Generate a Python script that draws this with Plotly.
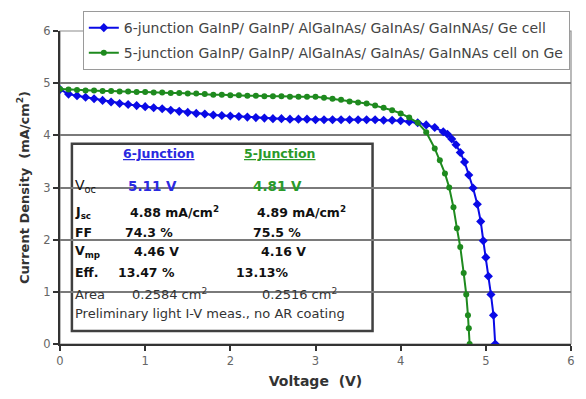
import plotly.graph_objects as go

# ---- measured J-V data -------------------------------------------------------
v_6j = [0.0, 0.1, 0.2, 0.3, 0.4, 0.5, 0.6, 0.7, 0.8, 0.9,
        1.0, 1.1, 1.2, 1.3, 1.4, 1.5, 1.6, 1.7, 1.8, 1.9,
        2.0, 2.1, 2.2, 2.3, 2.4, 2.5, 2.6, 2.7, 2.8, 2.9,
        3.0, 3.1, 3.2, 3.3, 3.4, 3.5, 3.6, 3.7, 3.8, 3.9,
        4.0, 4.1, 4.2, 4.3, 4.4, 4.5, 4.55, 4.6, 4.65, 4.7,
        4.75, 4.8, 4.85, 4.9, 4.94, 4.97, 5.0, 5.03, 5.06, 5.09, 5.11]
j_6j = [4.88, 4.79, 4.76, 4.73, 4.70, 4.67, 4.64, 4.61, 4.59, 4.57,
        4.55, 4.53, 4.51, 4.48, 4.46, 4.44, 4.42, 4.41, 4.39, 4.38,
        4.37, 4.36, 4.35, 4.34, 4.33, 4.32, 4.32, 4.31, 4.31, 4.31,
        4.30, 4.30, 4.30, 4.30, 4.30, 4.30, 4.30, 4.30, 4.29, 4.29,
        4.28, 4.26, 4.24, 4.20, 4.15, 4.07, 4.02, 3.93, 3.82, 3.67,
        3.49, 3.24, 2.99, 2.68, 2.35, 1.98, 1.66, 1.30, 0.95, 0.55, 0.0]

v_5j = [0.0, 0.1, 0.2, 0.3, 0.4, 0.5, 0.6, 0.7, 0.8, 0.9,
        1.0, 1.1, 1.2, 1.3, 1.4, 1.5, 1.6, 1.7, 1.8, 1.9,
        2.0, 2.1, 2.2, 2.3, 2.4, 2.5, 2.6, 2.7, 2.8, 2.9,
        3.0, 3.1, 3.2, 3.3, 3.4, 3.5, 3.6, 3.7, 3.8, 3.9,
        4.0, 4.1, 4.2, 4.3, 4.4, 4.46, 4.52, 4.57, 4.62, 4.66,
        4.70, 4.74, 4.77, 4.79, 4.80, 4.81]
j_5j = [4.89, 4.88, 4.87, 4.86, 4.86, 4.85, 4.85, 4.84, 4.84, 4.83,
        4.83, 4.82, 4.82, 4.81, 4.81, 4.80, 4.80, 4.79, 4.78, 4.78,
        4.77, 4.77, 4.76, 4.76, 4.75, 4.75, 4.75, 4.74, 4.74, 4.74,
        4.74, 4.72, 4.70, 4.68, 4.65, 4.63, 4.61, 4.57, 4.53, 4.48,
        4.42, 4.34, 4.24, 4.06, 3.75, 3.52, 3.27, 3.00, 2.62, 2.22,
        1.86, 1.36, 0.95, 0.55, 0.30, 0.0]

names = ["6-junction GaInP/ GaInP/ AlGaInAs/ GaInAs/ GaInNAs/ Ge cell",
         "5-junction GaInP/ GaInP/ AlGaInAs/ GaInAs/ GaInNAs cell on Ge"]

x_ticks = [0, 1, 2, 3, 4, 5, 6]
y_ticks = [0, 1, 2, 3, 4, 5, 6]

# performance table: label, 6-junction value, 5-junction value
table_rows = [
    ("V<sub>oc</sub>", "5.11 V", "4.81 V"),
    ("J<sub>sc</sub>", "4.88 mA/cm<sup>2</sup>", "4.89 mA/cm<sup>2</sup>"),
    ("FF", "74.3 %", "75.5 %"),
    ("V<sub>mp</sub>", "4.46 V", "4.16 V"),
    ("Eff.", "13.47 %", "13.13%"),
    ("Area", "0.2584 cm<sup>2</sup>", "0.2516 cm<sup>2</sup>"),
]
note = "Preliminary light I-V meas., no AR coating"

BLUE = "#0a0ae6"
GREEN = "#1e8a1e"
FONT = "DejaVu Sans, Verdana, sans-serif"

W, H = 586, 399
L, R, T, B = 60, 11, 30, 55
PW, PH = W - L - R, H - T - B


def px(x):
    return (x - L) / PW


def py(y):
    return (H - B - y) / PH


fig = go.Figure()
fig.add_trace(go.Scatter(x=v_6j, y=j_6j, name=names[0], mode="lines+markers",
                         legendgroup="six",
                         line=dict(color=BLUE, width=2),
                         marker=dict(symbol="diamond", size=7, color=BLUE)))
fig.add_trace(go.Scatter(x=v_5j, y=j_5j, name=names[1], mode="lines+markers",
                         legendgroup="five",
                         line=dict(color=GREEN, width=2),
                         marker=dict(symbol="circle", size=6, color=GREEN)))

# plot-area frame (top / right)
fig.add_shape(type="rect", xref="paper", yref="paper", x0=0, x1=1, y0=0, y1=1,
              line=dict(color="#8c8c8c", width=1.2), layer="below")

# parameter box
fig.add_shape(type="rect", xref="paper", yref="paper",
              x0=px(72), x1=px(375), y0=py(331), y1=py(143),
              line=dict(color="#404040", width=2.5), fillcolor="white",
              layer="between")

anns = []


def txt(x, y, s, color="#111", size=12, bold=False):
    if bold:
        s = "<b>" + s + "</b>"
    anns.append(dict(x=px(x), y=py(y), xref="paper", yref="paper", text=s,
                     showarrow=False, xanchor="left", yanchor="middle",
                     font=dict(family=FONT, size=size, color=color)))


txt(121, 153, "<u>6-Junction</u>", "#2a2ae0", 12.5, True)
txt(243, 153, "<u>5-Junction</u>", "#2a9a2a", 12.5, True)

row_y = [185, 212, 232, 251, 272, 294]
x6 = [127, 129, 123, 133, 116, 131]
x5 = [252, 257, 252, 261, 235, 262]
for (lab, a, b), yy, xa, xb in zip(table_rows, row_y, x6, x5):
    if lab == "Area":
        txt(73, yy, lab, "#333", 13)
        txt(xa, yy, a, "#333", 13)
        txt(xb, yy, b, "#333", 13)
    elif lab.startswith("V<sub>oc"):
        txt(73, yy, lab, "#111", 14)
        txt(xa, yy, a, "#2a2ae0", 13.5, True)
        txt(xb, yy, b, "#2a9a2a", 13.5, True)
    else:
        txt(73, yy, lab, "#111", 12.5, True)
        txt(xa, yy, a, "#111", 12.5, True)
        txt(xb, yy, b, "#111", 12.5, True)
txt(73, 313, note, "#333", 13)

fig.update_layout(
    width=W, height=H,
    margin=dict(l=L, r=R, t=T, b=B),
    paper_bgcolor="white", plot_bgcolor="white",
    font=dict(family=FONT, color="#555"),
    annotations=anns,
    legend=dict(x=px(83), y=py(10), xanchor="left", yanchor="top",
                bgcolor="white", bordercolor="#9a9a9a", borderwidth=1,
                font=dict(family=FONT, size=14, color="#444"),
                itemwidth=30, tracegroupgap=4),
    xaxis=dict(range=[0, 6], tickvals=x_ticks, showgrid=False, zeroline=False,
               showline=True, linecolor="#333", linewidth=2,
               ticks="outside", ticklen=5, tickcolor="#333", tickwidth=1.5,
               tickfont=dict(size=11.5, color="#666"),
               title=dict(text="<b>Voltage  (V)</b>", standoff=9,
                          font=dict(size=14, color="#333"))),
    yaxis=dict(range=[0, 6], tickvals=y_ticks, showgrid=True,
               gridcolor="#7a7a7a", gridwidth=1.5, zeroline=False,
               showline=True, linecolor="#333", linewidth=2,
               ticks="outside", ticklen=5, tickcolor="#333", tickwidth=1.5,
               tickfont=dict(size=11.5, color="#666"),
               title=dict(text="<b>Current Density  (mA/cm<sup>2</sup>)</b>",
                          standoff=11, font=dict(size=13, color="#333"))),
)

fig.write_html("out.html")
